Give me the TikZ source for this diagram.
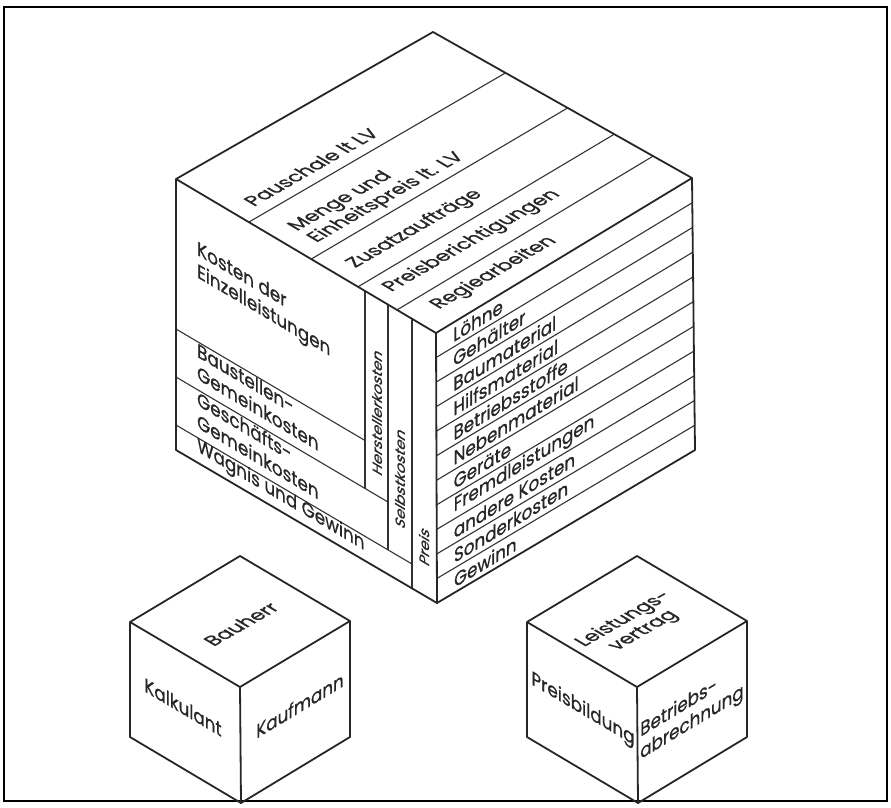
\documentclass[tikz,border=0pt]{standalone}
\usepackage{fontspec}
\setmainfont{Poppins}[FakeBold=0.8]
\usetikzlibrary{calc}
\newcommand\lbl{\fontsize{19.5}{22.5}\selectfont}
\newcommand\collbl{\fontsize{15.5}{18}\selectfont}

\begin{document}
\begin{tikzpicture}[x=1pt, y=-1pt,
    edge/.style={line width=1.8pt, line join=round, black!85},
    band/.style={line width=1.1pt, black!80},
    facetext/.style={inner sep=0pt, align=left, font=\lbl, black!85},
    topface/.style={facetext, cm={0.868,0.497,-0.861,0.510,(0,0)}},
    leftface/.style={facetext, cm={0.861,-0.510,0,1,(0,0)}},
    rightface/.style={facetext, cm={0.856,0.518,0,1,(0,0)}},
    column/.style={facetext, font=\collbl, cm={0,1,-0.861,0.510,(0,0)}}]
  \useasboundingbox (0,0) rectangle (891,807);
  \draw[line width=1.5pt] (4,7) rectangle (887,801); %
  % big cube
  \coordinate (T) at (433,32);
  \coordinate (L) at (176,179);
  \coordinate (F) at (436,333);
  \coordinate (R) at (692,178);
  \coordinate (BL) at (176,450);
  \coordinate (BF) at (437,603);
  \coordinate (BR) at (695,450);
  \foreach \s in {0.28,0.52,0.70,0.85}
    \draw[band] ($(L)!\s!(F)$) -- ($(T)!\s!(R)$); %
  \foreach \i in {1,...,10}
    \draw[band] ($(F)!\i/11!(BF)$) -- ($(R)!\i/11!(BR)$); %
  \draw[band] (176,329) -- (365,440.5) (176,377) -- (388,502)
    (176,425) -- (412,564); %
  \draw[band] (365,291) -- (365,488.5) (388,304.6) -- (388,550)
    (412,318.8) -- (412,588.3); %
  \draw[edge] (L) -- (T) -- (R) -- (BR) -- (BF) -- (BL) -- cycle
    (L) -- (F) -- (R) (F) -- (BF); %
  % top face
  \node[topface] (pauschale) at (311,167) {Pauschale lt LV};
  \node[topface] (menge) at (377,192) {Menge und\\Einheitspreis lt. LV};
  \node[topface] (zusatz) at (415,229) {Zusatzaufträge};
  \node[topface] (preisber) at (472,241) {Preisberichtigungen};
  \node[topface] (regie) at (494,273) {Regiearbeiten};
  % left face
  \node[leftface, anchor=north west] (kosten) at (197,240)
    {Kosten der\\Einzelleistungen};
  \node[leftface, anchor=north west] (baustelle) at (197,342)
    {Baustellen-\\Gemeinkosten};
  \node[leftface, anchor=north west] (geschaeft) at (197,390)
    {Geschäfts-\\Gemeinkosten};
  \node[leftface, anchor=north west] (wagnis) at (197,436)
    {Wagnis und Gewinn};
  \node[column] (herst) at (377,412) {Herstellerkosten};
  \node[column] (selbst) at (400,478) {Selbstkosten};
  \node[column] (preis) at (424,546) {Preis};
  % right face
  \foreach \t [count=\i] in {Löhne, Gehälter, Baumaterial, Hilfsmaterial,
      Betriebsstoffe, Nebenmaterial, Geräte, Fremdleistungen,
      andere Kosten, Sonderkosten, Gewinn}
    \node[rightface, anchor=west] (r\i) at ($(F)!{(\i-0.5)/11}!(BF) + (17,-10)$) {\t};
  % small cubes
  \foreach \cx in {240,637}
    \draw[edge] (\cx-110,622) -- (\cx,556) -- (\cx+110,621) -- (\cx+110,737)
      -- (\cx+1,803) -- (\cx-110,737) -- cycle
      (\cx-110,622) -- (\cx,687) -- (\cx+110,621) (\cx,687) -- (\cx+1,803); %
  \node[topface, align=center] (bauherr) at (241,624) {Bauherr};
  \node[leftface] (kalkulant) at (183,707) {Kalkulant};
  \node[rightface] (kaufmann) at (300,705) {Kaufmann};
  \node[topface, align=center] (leistung) at (634,625) {Leistungs-\\vertrag};
  \node[leftface] (preisbild) at (583,710) {Preisbildung};
  \node[rightface] (betrieb) at (692,712) {Betriebs-\\abrechnung};
\end{tikzpicture}
\end{document}
